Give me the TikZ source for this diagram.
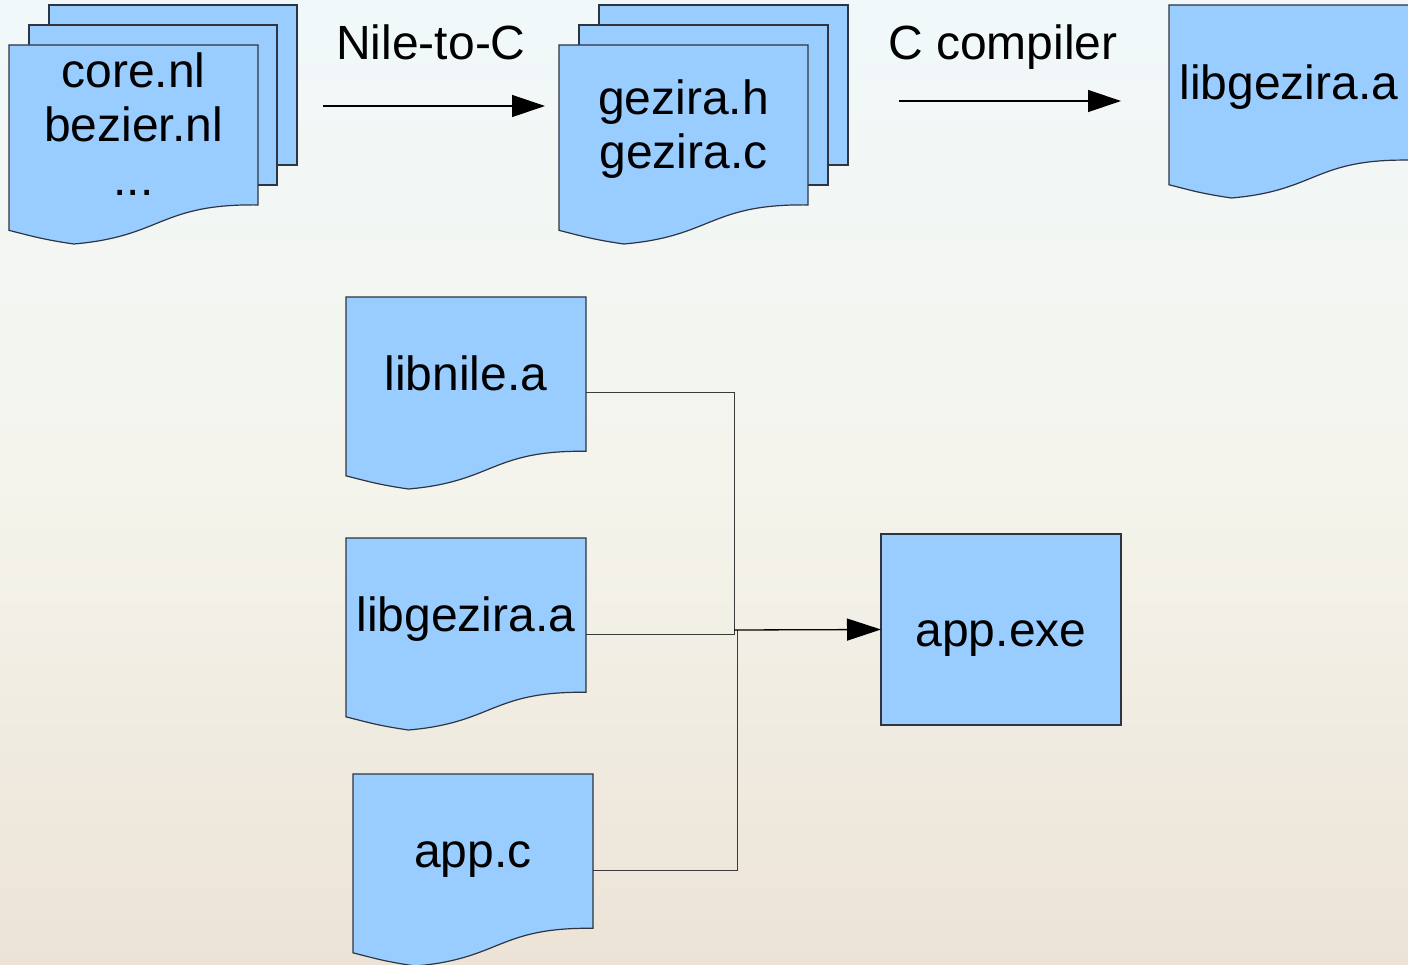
\documentclass[tikz,border=0pt]{standalone}
\usepackage{fontspec}
\setmainfont{Liberation Sans}
\usetikzlibrary{arrows.meta,calc}
\definecolor{docblue}{HTML}{99CCFF}
\definecolor{edgec}{HTML}{2E3440}
\definecolor{connc}{HTML}{3A3A3A}
\definecolor{bgtop}{HTML}{F1F8FA}
\definecolor{bgmid}{HTML}{F4F4EC}
\definecolor{bgbot}{HTML}{ECE3D6}
\newcommand\ta{\rule{0pt}{0.905em}}
\newcommand\td{\rule[-0.212em]{0pt}{0.212em}}
% #1 name, #2 x, #3 y, #4 width, #5 full height, #6 text
\newcommand\docshape[6]{%
  \filldraw[docline] (#2,#3) -- ({#2+#4},#3) -- ({#2+#4},{#3+0.8037*#5})
    .. controls ({#2+0.6042*#4},{#3+0.7972*#5}) and ({#2+0.6176*#4},{#3+0.9616*#5}) .. ({#2+0.2602*#4},{#3+#5})
    .. controls ({#2+0.1324*#4},{#3+0.9769*#5}) and ({#2+0.0856*#4},{#3+0.9583*#5}) .. (#2,{#3+0.9315*#5}) -- cycle;
  \node[hit, minimum width=#4pt, minimum height=#5pt] (#1) at ({#2+#4/2},{#3+#5/2}) {};
  \node[lbl] (#1-t) at ({#2+#4/2},{#3+0.4018*#5}) {#6};
}
\begin{document}
\begin{tikzpicture}[x=1pt,y=-1pt,
  docline/.style={fill=docblue, draw=edgec, line width=1.2pt, line join=miter},
  sheet/.style={fill=docblue, draw=edgec, line width=1.2pt},
  hit/.style={inner sep=0pt, outer sep=0pt, draw=none},
  lbl/.style={font=\fontsize{48}{53.6}\selectfont, align=center, inner sep=0pt, text=black},
  boxnode/.style={fill=docblue, draw=edgec, line width=1.2pt, inner sep=0pt, outer sep=0pt},
  arr/.style={draw=black, line width=1.3pt, -{Triangle[length=33pt,width=22pt]}},
  conn/.style={draw=connc, line width=1pt},
  connarr/.style={draw=black, line width=1.3pt, -{Triangle[length=34pt,width=22pt]}}]
\useasboundingbox (0,0) rectangle (1408,965);
\shade[top color=bgtop, bottom color=bgbot, middle color=bgmid] (0,0) rectangle (1408,965);

% --- top row: source files
\draw[sheet] (49,5) rectangle (297,165);
\draw[sheet] (29,25) rectangle (277,185);
\docshape{core}{9}{45}{249}{199}{\ta core.nl\\bezier.nl\\...\td}

\draw[sheet] (599,5) rectangle (848,165);
\draw[sheet] (579,25) rectangle (828,185);
\docshape{gezira}{559}{45}{249}{199}{\ta gezira.h\\gezira.c\td}

\docshape{libgeztop}{1169}{5}{240}{193}{\ta libgezira.a\td}

% --- top arrows and labels
\node[lbl, anchor=base] (lab1) at (431,60) {Nile-to-C};
\node[lbl, anchor=base] (lab2) at (1003,60) {C compiler};
\coordinate (a1s) at (323,106);
\coordinate (a1e) at (545,106);
\draw[arr] (a1s) -- (a1e);
\coordinate (a2s) at (899,101);
\coordinate (a2e) at (1121,101);
\draw[arr] (a2s) -- (a2e);

% --- bottom: linking
\docshape{libnile}{346}{297}{240}{192}{\ta libnile.a\td}
\docshape{libgez}{346}{538}{240}{192}{\ta libgezira.a\td}
\docshape{appc}{353}{774}{240}{192}{\ta app.c\td}
\node[boxnode, minimum width=240pt, minimum height=191pt] (appexe) at (1001,629.5) {\fontsize{48}{53.6}\selectfont\ta app.exe\td};

\coordinate (j1) at (734,630);
\coordinate (j2) at (737,630);
\draw[conn] (libnile.east) -| (j1);
\draw[conn] (libgez.east) -| (j1);
\draw[conn] (appc.east) -| (j2);
\draw[connarr] (j1) -- (appexe.west);
\end{tikzpicture}
\end{document}
